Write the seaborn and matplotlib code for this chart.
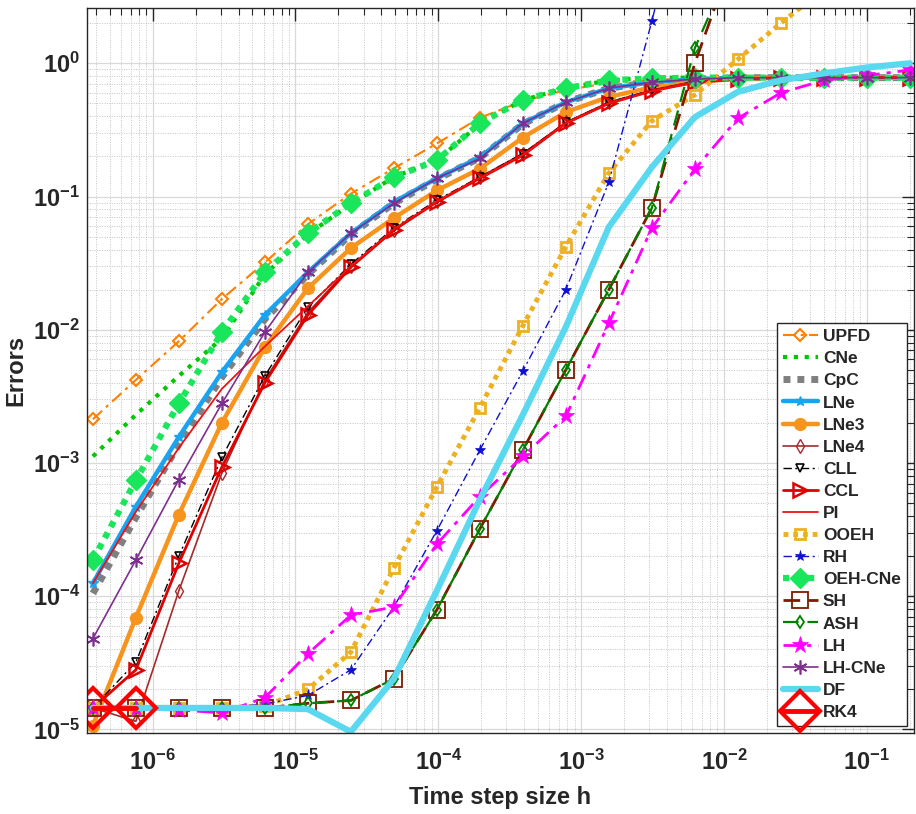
import numpy as np
import pandas as pd
import matplotlib
matplotlib.use('Agg')
import matplotlib.pyplot as plt
import seaborn as sns
from matplotlib.ticker import LogLocator, NullFormatter

sns.set_theme(style='white')
plt.rcParams['font.family'] = ['Liberation Sans', 'DejaVu Sans']
plt.rcParams['font.weight'] = 'bold'
plt.rcParams['mathtext.fontset'] = 'custom'
plt.rcParams['mathtext.rm'] = 'Liberation Sans:bold'
plt.rcParams['mathtext.bf'] = 'Liberation Sans:bold'
plt.rcParams['mathtext.default'] = 'bf'
plt.rcParams['axes.unicode_minus'] = False

nan = np.nan

# time step sizes (small to large)
h = [3.815e-7, 7.629e-7, 1.526e-6, 3.052e-6, 6.104e-6, 1.221e-5, 2.441e-5, 4.883e-5,
     9.766e-5, 1.953e-4, 3.906e-4, 7.813e-4, 1.5625e-3, 3.125e-3, 6.25e-3, 1.25e-2,
     2.5e-2, 5e-2, 0.1, 0.2]

upfd = [2.13e-3, 4.2e-3, 8.2e-3, 1.7e-2, 3.2e-2, 6.2e-2, 0.105, 0.163, 0.25, 0.39,
        0.52, 0.63, 0.71, 0.75, 0.77, 0.78, 0.78, 0.78, 0.78, 0.78]
cne = [1.12e-3, 2.3e-3, 4.5e-3, 8.6e-3, 2.6e-2, 5.2e-2, 8.8e-2, 0.14, 0.187, 0.35,
       0.53, 0.65, 0.745, 0.78, 0.78, 0.78, 0.78, 0.78, 0.78, 0.78]
cpc = [1.05e-4, 3.9e-4, 1.38e-3, 4.4e-3, 1.2e-2, 2.6e-2, 5.2e-2, 0.089, 0.135, 0.195,
       0.35, 0.51, 0.65, 0.72, 0.76, 0.78, 0.78, 0.78, 0.78, 0.78]
lne = [1.25e-4, 4.7e-4, 1.57e-3, 4.8e-3, 1.29e-2, 2.7e-2, 5.3e-2, 0.091, 0.137, 0.197,
       0.355, 0.51, 0.65, 0.72, 0.76, 0.78, 0.78, 0.78, 0.78, 0.78]
lne3 = [1.07e-5, 6.9e-5, 4.1e-4, 2.0e-3, 7.4e-3, 2.05e-2, 4.1e-2, 6.9e-2, 0.111, 0.162,
        0.277, 0.43, 0.56, 0.66, 0.72, 0.77, 0.78, 0.78, 0.78, 0.78]
lne4 = [1.45e-5, 1.15e-5, 1.1e-4, 8.4e-4, 4.2e-3, 1.35e-2, 3.0e-2, 5.6e-2, 0.092, 0.14,
        0.21, 0.36, 0.51, 0.63, 0.73, 0.77, 0.78, 0.78, 0.78, 0.78]
cll = [1.45e-5, 3.2e-5, 2.0e-4, 1.1e-3, 4.5e-3, 1.48e-2, 3.1e-2, 5.8e-2, 0.094, 0.14,
       0.21, 0.36, 0.51, 0.63, 0.73, 0.77, 0.78, 0.78, 0.78, 0.78]
ccl = [1.45e-5, 2.8e-5, 1.77e-4, 9.3e-4, 4.0e-3, 1.29e-2, 2.95e-2, 5.6e-2, 0.091, 0.137,
       0.204, 0.355, 0.50, 0.62, 0.72, 0.76, 0.78, 0.78, 0.78, 0.78]
pi_ = [1.25e-4, 4.3e-4, 1.3e-3, 3.6e-3, 7.5e-3, 1.5e-2, 3.0e-2, 5.7e-2, 0.092, 0.138,
       0.205, 0.355, 0.50, 0.62, 0.72, 0.76, 0.78, 0.78, 0.78, 0.78]
ooeh = [1.45e-5, 1.45e-5, 1.45e-5, 1.45e-5, 1.5e-5, 2.0e-5, 3.8e-5, 1.63e-4, 6.6e-4, 2.6e-3,
        1.07e-2, 4.2e-2, 0.15, 0.37, 0.58, 1.07, 2.0, 3.6, nan, nan]
rh = [1.45e-5, 1.45e-5, 1.45e-5, 1.45e-5, 1.55e-5, 1.8e-5, 2.8e-5, 8.3e-5, 3.1e-4, 1.25e-3,
      4.9e-3, 2.0e-2, 0.128, 2.07, 40, nan, nan, nan, nan, nan]
oeh_cne = [1.87e-4, 7.4e-4, 2.8e-3, 9.6e-3, 2.7e-2, 5.3e-2, 8.9e-2, 0.14, 0.187, 0.355,
           0.53, 0.65, 0.745, 0.77, 0.78, 0.78, 0.78, 0.78, 0.78, 0.78]
sh = [1.45e-5, 1.45e-5, 1.45e-5, 1.45e-5, 1.45e-5, 1.57e-5, 1.65e-5, 2.4e-5, 7.9e-5, 3.2e-4,
      1.25e-3, 5.0e-3, 2.0e-2, 8.2e-2, 1.0, 8.0, nan, nan, nan, nan]
ash = [1.45e-5, 1.45e-5, 1.45e-5, 1.45e-5, 1.45e-5, 1.57e-5, 1.65e-5, 2.4e-5, 7.9e-5, 3.2e-4,
       1.25e-3, 5.0e-3, 2.0e-2, 8.2e-2, 1.3, 7.0, nan, nan, nan, nan]
lh = [1.45e-5, 1.42e-5, 1.4e-5, 1.33e-5, 1.73e-5, 3.7e-5, 7.2e-5, 8.3e-5, 2.46e-4, 5.6e-4,
      1.12e-3, 2.24e-3, 1.12e-2, 5.8e-2, 0.16, 0.386, 0.6, 0.745, 0.81, 0.89]
lh_cne = [4.8e-5, 1.87e-4, 7.5e-4, 2.8e-3, 9.6e-3, 2.7e-2, 5.3e-2, 0.089, 0.137, 0.193,
          0.355, 0.51, 0.65, 0.72, 0.76, 0.78, 0.78, 0.78, 0.78, 0.78]
df_ = [1.45e-5, 1.45e-5, 1.45e-5, 1.45e-5, 1.45e-5, 1.42e-5, 9.6e-6, 2.4e-5, 1.1e-4, 5.3e-4,
       2.3e-3, 1.05e-2, 5.9e-2, 0.166, 0.394, 0.61, 0.745, 0.84, 0.93, 1.0]
rk4 = [1.45e-5, 1.45e-5, nan, nan, nan, nan, nan, nan, nan, nan,
       nan, nan, nan, nan, nan, nan, nan, nan, nan, nan]

series = [
    ('UPFD', upfd), ('CNe', cne), ('CpC', cpc), ('LNe', lne), ('LNe3', lne3),
    ('LNe4', lne4), ('CLL', cll), ('CCL', ccl), ('PI', pi_), ('OOEH', ooeh),
    ('RH', rh), ('OEH-CNe', oeh_cne), ('SH', sh), ('ASH', ash), ('LH', lh),
    ('LH-CNe', lh_cne), ('DF', df_), ('RK4', rk4),
]

dashdot = (0, (6, 2.5, 1.5, 2.5))
styles = {
    'UPFD': dict(color='#FF7F00', ls=dashdot, lw=1.5, marker='D', ms=6.5, mfc='none', mew=1.5),
    'CNe': dict(color='#00C800', ls=(0, (1, 1.6)), lw=3, marker=None),
    'CpC': dict(color='#808080', ls=(0, (1, 1)), lw=5, marker=None),
    'LNe': dict(color='#1AA3F0', ls='-', lw=3.2, marker='*', ms=7, mfc='#1AA3F0', mew=1),
    'LNe3': dict(color='#F7941D', ls='-', lw=3.2, marker='o', ms=8.5, mfc='#F7941D', mew=1),
    'LNe4': dict(color='#A52A2A', ls='-', lw=1.2, marker='d', ms=7, mfc='none', mew=1),
    'CLL': dict(color='black', ls=dashdot, lw=1, marker='v', ms=6, mfc='none', mew=1.2),
    'CCL': dict(color='#E00000', ls='-', lw=2, marker='>', ms=10, mfc='none', mew=1.8),
    'PI': dict(color='#F01010', ls='-', lw=1.3, marker=None),
    'OOEH': dict(color='#EDB120', ls=(0, (1, 1)), lw=3.5, marker='s', ms=7, mfc='none', mew=2),
    'RH': dict(color='#1010D0', ls=dashdot, lw=1, marker='*', ms=8, mfc='#1010D0', mew=0.5),
    'OEH-CNe': dict(color='#19E65A', ls=(0, (1, 1)), lw=4.5, marker='D', ms=10, mfc='#19E65A', mew=1),
    'SH': dict(color='#7F1A00', ls=(0, (6, 3)), lw=2, marker='s', ms=11, mfc='none', mew=1.3),
    'ASH': dict(color='#008000', ls=(0, (7, 4)), lw=1.6, marker='d', ms=6, mfc='none', mew=1.3),
    'LH': dict(color='#FF00FF', ls=dashdot, lw=2, marker='*', ms=12.5, mfc='#FF00FF', mew=0.5),
    'LH-CNe': dict(color='#7E2F8E', ls='-', lw=1.2, marker=(6, 2, 0), ms=10, mfc='none', mew=1.2),
    'DF': dict(color='#5AD8F0', ls='-', lw=4.5, marker=None),
    'RK4': dict(color='#FF0000', ls='-', lw=3.5, marker='D', ms=20, mfc='none', mew=3),
}

fig = plt.figure(figsize=(9.16, 8.14), dpi=100)
ax = fig.add_axes([87 / 916, 81 / 814, 827 / 916, 725 / 814])
ax.set_xscale('log')
ax.set_yscale('log')

for name, vals in series:
    st = styles[name]
    kw = dict(color=st['color'], linestyle=st['ls'], linewidth=st['lw'])
    if st['marker'] is not None:
        kw.update(marker=st['marker'], markersize=st['ms'], markerfacecolor=st['mfc'],
                  markeredgecolor=st['color'], markeredgewidth=st['mew'])
    d = pd.DataFrame({'h': h, 'err': vals}).dropna()
    sns.lineplot(data=d, x='h', y='err', ax=ax, label=name, estimator=None,
                 errorbar=None, sort=False, **kw)

ax.set_xlim(3.47e-7, 0.214)
ax.set_ylim(9.4e-6, 2.6)

ax.xaxis.set_major_locator(LogLocator(base=10, numticks=20))
ax.yaxis.set_major_locator(LogLocator(base=10, numticks=20))
ax.xaxis.set_minor_locator(LogLocator(base=10, subs=np.arange(2, 10), numticks=50))
ax.yaxis.set_minor_locator(LogLocator(base=10, subs=np.arange(2, 10), numticks=50))
ax.xaxis.set_minor_formatter(NullFormatter())
ax.yaxis.set_minor_formatter(NullFormatter())

ax.grid(True, which='major', color='#D9D9D9', linestyle='-', linewidth=0.9)
ax.grid(True, which='minor', color='#C4C4C4', linestyle=(0, (1, 1.5)), linewidth=0.7)
ax.set_axisbelow(True)

ax.tick_params(which='both', direction='in', top=True, right=True, colors='#262626',
               labelsize=17)
ax.tick_params(which='major', length=9, width=1)
ax.tick_params(axis='x', which='major', pad=12)
ax.tick_params(axis='y', which='major', pad=5)
ax.tick_params(which='minor', length=5, width=0.8)
for sp in ax.spines.values():
    sp.set_color('#262626')
    sp.set_linewidth(1)

ax.set_xlabel('Time step size h', fontsize=17, fontweight='bold', color='#262626', labelpad=8)
ax.set_ylabel('Errors', fontsize=17, fontweight='bold', color='#262626', labelpad=4)

leg = ax.legend(loc='lower right', bbox_to_anchor=(0.9915, 0.0097), borderaxespad=0,
                fontsize=12.5, labelspacing=0.40, handlelength=2.0, handletextpad=0.3,
                borderpad=0.35, frameon=True, fancybox=False, framealpha=1)
leg.get_frame().set_edgecolor('#262626')
leg.get_frame().set_linewidth(1)
for t in leg.get_texts():
    t.set_fontweight('bold')

fig.savefig('out.png', dpi=100)
